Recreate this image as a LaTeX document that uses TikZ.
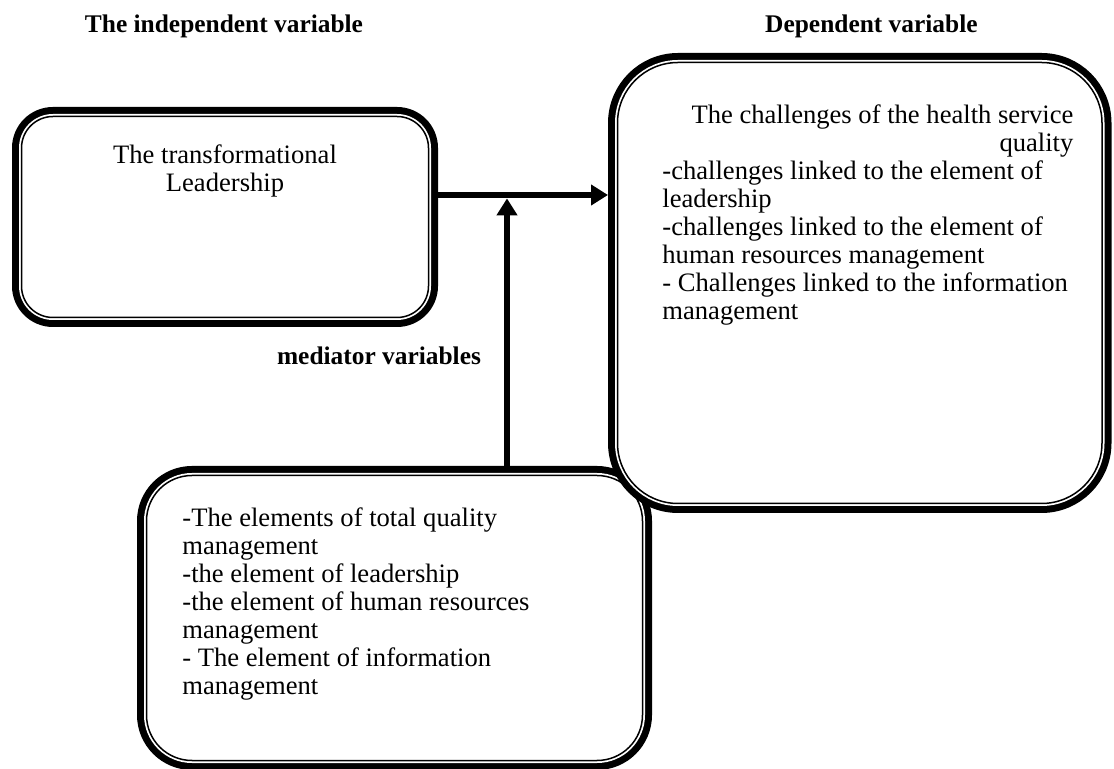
\documentclass[tikz,border=0pt]{standalone}
\usepackage{fontspec}
\setmainfont{Liberation Serif}
\usetikzlibrary{arrows.meta}

\begin{document}
\begin{tikzpicture}[x=0.5pt, y=-0.5pt,
    every node/.style={font=\fontsize{13.3}{14}\selectfont},
    varbox/.style={draw, fill=white, line width=0.75pt, inner sep=0pt, outer sep=4.75pt,
      preaction={draw=black, line width=9.5pt},
      preaction={draw=white, line width=2.5pt}},
    heading/.style={font=\fontsize{12.7}{14}\selectfont\bfseries, inner sep=0pt},
    boxtext/.style={inner sep=0pt},
    link/.style={line width=3.4pt, -{Triangle[length=8.5pt, width=10pt]}}]
  \useasboundingbox (0,0) rectangle (1114,769);

  % headings
  \node[heading, anchor=base] (indep) at (224,33) {The independent variable};
  \node[heading, anchor=base east] (dep) at (978,33) {Dependent variable};
  \node[heading, anchor=base] (med) at (379,365) {mediator variables};

  % boxes
  \node[varbox, rounded corners=22.75pt, minimum width=248pt, minimum height=142.5pt] (C) at (394.5,618) {};
  \node[varbox, rounded corners=30.25pt, minimum width=242.25pt, minimum height=220.5pt] (B) at (859.75,283) {};
  \node[varbox, rounded corners=15.75pt, minimum width=203.5pt, minimum height=100.5pt] (A) at (225,217) {};

  \node[boxtext, anchor=north, align=center] (Atext) at (225,144)
    {The transformational\\Leadership};
  \node[boxtext, anchor=north west, align=left] (Btext) at (662,104)
    {\makebox[205.5pt][r]{The challenges of the health service}\\
     \makebox[205.5pt][r]{quality}\\
     -challenges linked to the element of\\
     leadership\\
     -challenges linked to the element of\\
     human resources management\\
     - Challenges linked to the information\\
     management};
  \node[boxtext, anchor=north west, align=left] (Ctext) at (182,507)
    {-The elements of total quality\\
     management\\
     -the element of leadership\\
     -the element of human resources\\
     management\\
     - The element of information\\
     management};

  % arrows
  \coordinate (join) at (507,195);
  \draw[link] (A.east |- join) -- (B.west |- join);
  \draw[link, shorten >=1.7pt] (C.north -| join) -- (join);
\end{tikzpicture}
\end{document}
